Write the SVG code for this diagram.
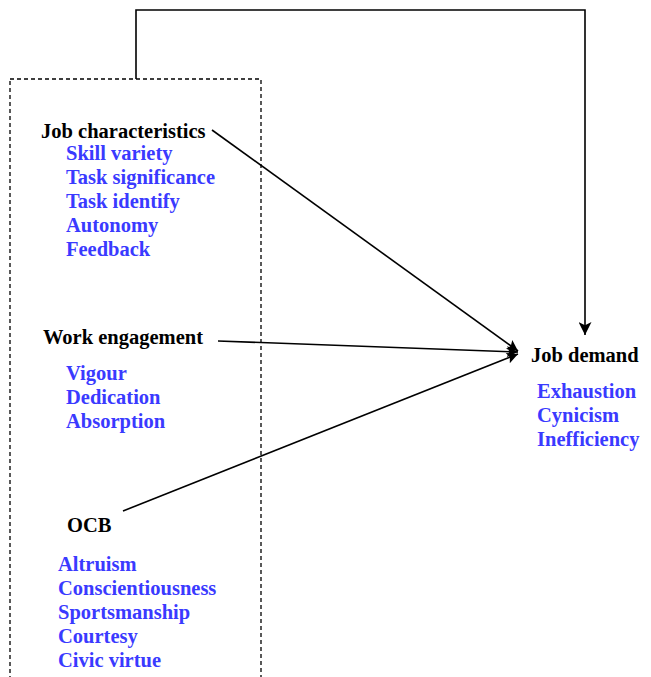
<svg xmlns="http://www.w3.org/2000/svg" width="651" height="677" viewBox="0 0 651 677">
<style>
text{font-family:"Liberation Serif","Times New Roman",serif;font-weight:bold;font-size:20.5px}
.h{fill:#000}
.s{fill:#3a3aff}
.c{stroke:#000;stroke-width:1.6;fill:none}
.box{stroke:#000;stroke-width:1.3;fill:none;stroke-dasharray:4,3}
</style>
<defs>
<marker id="ah" viewBox="0 0 10 10" refX="10" refY="5" markerWidth="14" markerHeight="11" markerUnits="userSpaceOnUse" orient="auto">
<path d="M0,0 L10,5 L0,10 L2,5 z" fill="#000"/>
</marker>
<marker id="ah2" viewBox="0 0 10 10" refX="10" refY="5" markerWidth="15" markerHeight="13" markerUnits="userSpaceOnUse" orient="auto">
<path d="M0,0 L10,5 L0,10 L2.5,5 z" fill="#000"/>
</marker>
</defs>
<rect class="box" x="10" y="79" width="251" height="620"/>
<g id="connectors">
<path class="c" d="M136,79 V10 H585 V335" marker-end="url(#ah2)"/>
<line class="c" x1="212" y1="130" x2="518" y2="351" marker-end="url(#ah)"/>
<line class="c" x1="218" y1="341" x2="518" y2="352" marker-end="url(#ah)"/>
<line class="c" x1="123" y1="511" x2="518" y2="354" marker-end="url(#ah)"/>
</g>
<g id="job-characteristics">
<text class="h" x="41" y="138">Job characteristics</text>
<text class="s" x="66" y="160">Skill variety</text>
<text class="s" x="66" y="184">Task significance</text>
<text class="s" x="66" y="208">Task identify</text>
<text class="s" x="66" y="232">Autonomy</text>
<text class="s" x="66" y="256">Feedback</text>
</g>
<g id="work-engagement">
<text class="h" x="43" y="344">Work engagement</text>
<text class="s" x="66" y="380">Vigour</text>
<text class="s" x="66" y="404">Dedication</text>
<text class="s" x="66" y="428">Absorption</text>
</g>
<g id="ocb">
<text class="h" x="67" y="532">OCB</text>
<text class="s" x="58" y="571">Altruism</text>
<text class="s" x="58" y="595">Conscientiousness</text>
<text class="s" x="58" y="619">Sportsmanship</text>
<text class="s" x="58" y="643">Courtesy</text>
<text class="s" x="58" y="667">Civic virtue</text>
</g>
<g id="job-demand">
<text class="h" x="531" y="362">Job demand</text>
<text class="s" x="537" y="398">Exhaustion</text>
<text class="s" x="537" y="422">Cynicism</text>
<text class="s" x="537" y="446">Inefficiency</text>
</g>
</svg>
